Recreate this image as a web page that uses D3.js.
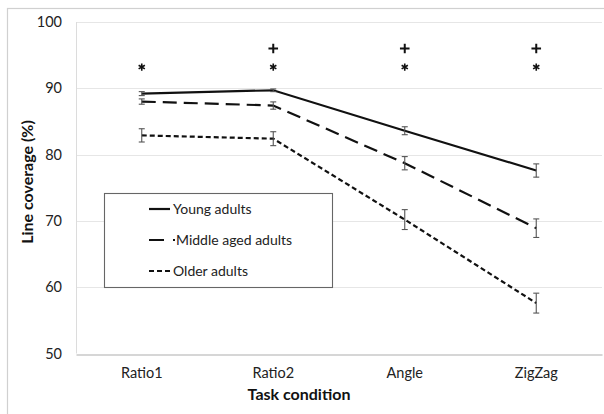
<!DOCTYPE html>
<html>
<head>
<meta charset="utf-8">
<script src="https://cdn.jsdelivr.net/npm/d3@7"></script>
<style>
  body { margin: 0; background: #fff; }
  svg { display: block; font-family: Lato, "Open Sans", sans-serif; }
</style>
</head>
<body>
<div id="vis"></div>
<script>
// values
var categories = ["Ratio1", "Ratio2", "Angle", "ZigZag"];
var seriesNames = ["Young adults", "Middle aged adults", "Older adults"];
var young = [89.2, 89.7, 83.6, 77.6];
var youngErr = [0.3, 0.2, 0.6, 1.0];
var middle = [88.0, 87.4, 78.7, 68.9];
var middleErr = [0.4, 0.55, 1.0, 1.4];
var older = [82.9, 82.4, 70.2, 57.6];
var olderErr = [1.0, 1.05, 1.5, 1.5];
var yTicks = [50, 60, 70, 80, 90, 100];
// significance marks per category
var starMarks = ["*", "*", "*", "*"];
var plusMarks = ["", "+", "+", "+"];
var starLevel = 93.2;
var plusLevel = 96.0;

const WIDTH = 604;
const HEIGHT = 414;
const PLOT_LEFT = 76;
const PLOT_RIGHT = 602;
const PLOT_TOP = 22;
const PLOT_BOTTOM = 353.5;
const DASHES = ["none", "14,7", "5,3"];

var series = [
    {name: seriesNames[0], values: young, err: youngErr},
    {name: seriesNames[1], values: middle, err: middleErr},
    {name: seriesNames[2], values: older, err: olderErr}
];

var svg = d3.select("#vis").append("svg")
    .attr("width", WIDTH)
    .attr("height", HEIGHT);

// outer chart border
svg.append("rect")
    .attr("x", 7.5).attr("y", 8.5)
    .attr("width", WIDTH + 10).attr("height", HEIGHT + 10)
    .attr("fill", "none")
    .attr("stroke", "#d0d0d0")
    .attr("stroke-width", 1.2);

var x = d3.scaleBand()
    .domain(categories)
    .range([PLOT_LEFT, PLOT_RIGHT]);

var y = d3.scaleLinear()
    .domain([50, 100])
    .range([PLOT_BOTTOM, PLOT_TOP]);

// gridlines
svg.append("g")
    .selectAll("line")
    .data(yTicks.slice(1))
    .enter()
    .append("line")
    .attr("x1", PLOT_LEFT)
    .attr("x2", PLOT_RIGHT)
    .attr("y1", function (d) { return Math.round(y(d)) + 0.5; })
    .attr("y2", function (d) { return Math.round(y(d)) + 0.5; })
    .attr("stroke", "#e6e6e6")
    .attr("stroke-width", 1);

// left vertical edge of plot area
svg.append("line")
    .attr("x1", PLOT_LEFT + 0.5).attr("x2", PLOT_LEFT + 0.5)
    .attr("y1", PLOT_TOP).attr("y2", PLOT_BOTTOM)
    .attr("stroke", "#dcdcdc");

// y axis labels
var yAxis = d3.axisLeft(y)
    .tickValues(yTicks)
    .tickSize(0)
    .tickPadding(14);
var yg = svg.append("g")
    .attr("transform", "translate(" + PLOT_LEFT + ",0)")
    .call(yAxis);
yg.select(".domain").remove();
yg.selectAll("text")
    .attr("font-size", "14.5px")
    .attr("font-family", "Lato, 'Open Sans', sans-serif")
    .attr("fill", "#222");

// x axis
var xAxis = d3.axisBottom(x).tickSize(0).tickPadding(13);
var xg = svg.append("g")
    .attr("transform", "translate(0," + (Math.round(PLOT_BOTTOM) + 0.5) + ")")
    .call(xAxis);
xg.select(".domain").attr("stroke", "#c8c8c8").attr("stroke-width", 1.3);
xg.selectAll("text")
    .attr("font-size", "14.5px")
    .attr("font-family", "Lato, 'Open Sans', sans-serif")
    .attr("fill", "#222");

// axis titles
svg.append("text")
    .text("Task condition")
    .attr("x", 299)
    .attr("y", 400)
    .attr("text-anchor", "middle")
    .attr("font-size", "16px")
    .attr("font-weight", "bold")
    .attr("fill", "#111");

svg.append("text")
    .text("Line coverage (%)")
    .attr("transform", "translate(33,182) rotate(-90)")
    .attr("text-anchor", "middle")
    .attr("font-size", "16px")
    .attr("font-weight", "bold")
    .attr("fill", "#111");

var cx = function (c) { return x(c) + x.bandwidth() / 2; };

// lines
var line = d3.line()
    .x(function (d, i) { return cx(categories[i]); })
    .y(function (d) { return y(d); });

svg.append("g")
    .selectAll("path")
    .data(series)
    .enter()
    .append("path")
    .attr("d", function (s) { return line(s.values); })
    .attr("fill", "none")
    .attr("stroke", "#111")
    .attr("stroke-width", 2.2)
    .attr("stroke-dasharray", function (s, i) { return DASHES[i]; });

// error bars
series.forEach(function (s) {
    var g = svg.append("g").attr("stroke", "#555").attr("stroke-width", 1.1);
    s.values.forEach(function (v, i) {
        var px = cx(categories[i]);
        var lo = y(v - s.err[i]);
        var hi = y(v + s.err[i]);
        g.append("line").attr("x1", px).attr("x2", px).attr("y1", lo).attr("y2", hi);
        g.append("line").attr("x1", px - 3).attr("x2", px + 3).attr("y1", lo).attr("y2", lo);
        g.append("line").attr("x1", px - 3).attr("x2", px + 3).attr("y1", hi).attr("y2", hi);
    });
});

// significance marks, drawn as symbols so the glyph size is font independent
var markSymbols = {"*": d3.symbol(d3.symbolAsterisk, 36), "+": d3.symbol(d3.symbolPlus, 32)};

function drawMarks(marks, level, width) {
    svg.append("g")
        .selectAll("path")
        .data(marks.map(function (m, i) { return {mark: m, cat: categories[i]}; })
            .filter(function (d) { return d.mark != ""; }))
        .enter()
        .append("path")
        .attr("d", function (d) { return markSymbols[d.mark](); })
        .attr("transform", function (d) {
            return "translate(" + cx(d.cat) + "," + y(level) + ")";
        })
        .attr("fill", "none")
        .attr("stroke", "#111")
        .attr("stroke-width", width);
}
drawMarks(starMarks, starLevel, 1.6);
drawMarks(plusMarks, plusLevel, 2.0);

// legend
var legend = svg.append("g");
legend.append("rect")
    .attr("x", 104.5).attr("y", 193.5)
    .attr("width", 228).attr("height", 94)
    .attr("fill", "#fff")
    .attr("stroke", "#666")
    .attr("stroke-width", 1.1);

var legendItems = legend.selectAll("g")
    .data(series)
    .enter()
    .append("g")
    .attr("transform", function (d, i) { return "translate(149," + (209 + i * 31) + ")"; });

legendItems.append("line")
    .attr("x1", 0).attr("x2", function (d, i) { return i == 1 ? 26 : 21; })
    .attr("y1", 0).attr("y2", 0)
    .attr("stroke", "#111")
    .attr("stroke-width", 2.2)
    .attr("stroke-dasharray", function (d, i) { return i == 1 ? "15,9" : DASHES[i]; });

legendItems.append("text")
    .text(function (d) { return d.name; })
    .attr("x", function (d, i) { return i == 1 ? 27 : 24; })
    .attr("dy", "0.35em")
    .attr("font-size", "14px")
    .attr("fill", "#222");
</script>
</body>
</html>
